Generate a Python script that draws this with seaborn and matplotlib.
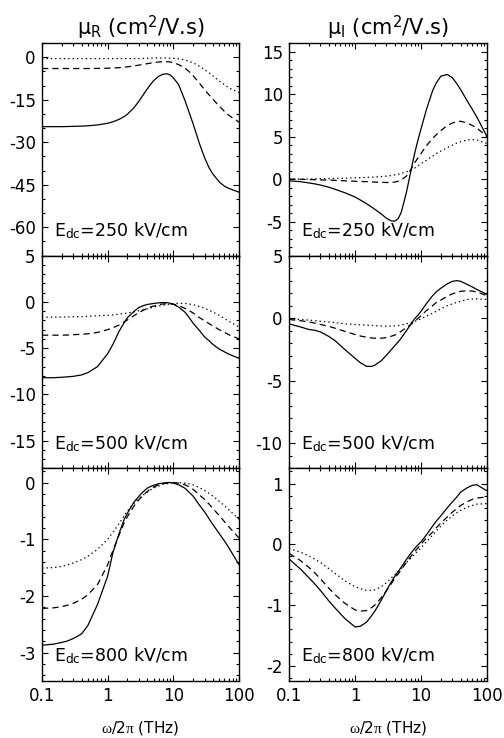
import numpy as np
import pandas as pd
import matplotlib
matplotlib.use("Agg")
import matplotlib.pyplot as plt
import seaborn as sns
from matplotlib.ticker import MultipleLocator, LogLocator, FixedLocator, FixedFormatter, NullFormatter

# ---------------- data ----------------
freq = [0.1, 0.15, 0.2, 0.25, 0.3, 0.4, 0.5, 0.7, 1.0, 1.2, 1.5, 1.8, 2.0, 2.5, 3.0, 3.5,
        4.0, 4.5, 5.0, 6.0, 7.0, 8.0, 9.0, 10, 12, 15, 17, 20, 25, 30, 35, 40, 50, 60, 70, 100]

fields = ["250", "500", "800"]
series_names = ["solid", "dashed", "dotted"]

# mu_R, E = 250 kV/cm
R250_solid = [-24.5, -24.5, -24.5, -24.45, -24.4, -24.3, -24.2, -23.9, -23.3, -22.8, -21.9,
              -20.9, -20.1, -17.9, -15.5, -13.2, -11.2, -9.6, -8.3, -6.7, -6.0, -5.85, -6.3,
              -7.3, -9.6, -15.2, -18.8, -23.5, -30.5, -35.5, -39.0, -41.2, -44.0, -45.5,
              -46.3, -47.6]
R250_dashed = [-4.0, -4.0, -4.0, -4.0, -4.0, -4.0, -4.0, -3.95, -3.9, -3.8, -3.7, -3.5, -3.4,
               -3.1, -2.8, -2.55, -2.3, -2.1, -1.9, -1.7, -1.6, -1.6, -1.7, -1.9, -2.6, -3.8,
               -4.9, -6.5, -9.2, -11.5, -13.3, -14.8, -17.3, -19.1, -20.5, -22.9]
R250_dotted = [-0.5, -0.5, -0.5, -0.5, -0.5, -0.5, -0.5, -0.5, -0.5, -0.5, -0.5, -0.5, -0.5,
               -0.5, -0.5, -0.45, -0.4, -0.35, -0.3, -0.3, -0.3, -0.3, -0.35, -0.4, -0.6,
               -1.0, -1.4, -2.0, -3.2, -4.4, -5.5, -6.6, -8.4, -9.7, -10.8, -12.5]

# mu_I, E = 250 kV/cm
I250_solid = [-0.2, -0.3, -0.45, -0.57, -0.7, -0.95, -1.2, -1.6, -2.1, -2.45, -2.9, -3.3,
              -3.55, -4.1, -4.6, -4.9, -4.95, -4.65, -3.95, -1.6, 0.9, 3.0, 4.6, 5.9, 8.1,
              10.4, 11.3, 12.1, 12.3, 11.9, 11.2, 10.5, 9.2, 8.2, 7.3, 5.0]
I250_dashed = [0.0, -0.02, -0.05, -0.07, -0.1, -0.1, -0.15, -0.2, -0.25, -0.28, -0.3, -0.33,
               -0.35, -0.38, -0.4, -0.4, -0.35, -0.25, -0.1, 0.35, 1.1, 1.9, 2.5, 3.0, 3.9,
               4.8, 5.2, 5.7, 6.3, 6.6, 6.75, 6.8, 6.6, 6.3, 6.0, 5.0]
I250_dotted = [0.0, 0.0, 0.0, 0.03, 0.05, 0.05, 0.1, 0.1, 0.15, 0.17, 0.2, 0.23, 0.25, 0.3,
               0.35, 0.42, 0.5, 0.57, 0.65, 0.85, 1.05, 1.3, 1.55, 1.8, 2.2, 2.7, 3.0, 3.3,
               3.7, 4.0, 4.25, 4.4, 4.6, 4.65, 4.6, 4.2]

# mu_R, E = 500 kV/cm
R500_solid = [-8.2, -8.2, -8.15, -8.1, -8.05, -7.9, -7.65, -7.0, -5.6, -4.6, -3.15, -2.2,
              -1.7, -1.05, -0.6, -0.4, -0.28, -0.22, -0.17, -0.1, -0.07, -0.08, -0.15,
              -0.25, -0.55, -1.1, -1.6, -2.3, -3.1, -3.8, -4.2, -4.6, -5.1, -5.4, -5.65, -6.1]
R500_dashed = [-3.6, -3.6, -3.6, -3.58, -3.55, -3.5, -3.45, -3.3, -3.0, -2.8, -2.5, -2.15,
               -1.95, -1.5, -1.15, -0.9, -0.7, -0.55, -0.45, -0.3, -0.22, -0.2, -0.22, -0.25,
               -0.4, -0.7, -0.9, -1.2, -1.7, -2.05, -2.35, -2.6, -3.0, -3.3, -3.55, -4.0]
R500_dotted = [-1.65, -1.65, -1.65, -1.62, -1.6, -1.6, -1.55, -1.5, -1.45, -1.4, -1.33,
               -1.25, -1.2, -1.08, -0.95, -0.85, -0.75, -0.65, -0.55, -0.45, -0.35, -0.3,
               -0.25, -0.2, -0.15, -0.17, -0.22, -0.3, -0.5, -0.7, -0.9, -1.1, -1.45, -1.8,
               -2.1, -2.7]

# mu_I, E = 500 kV/cm
I500_solid = [-0.45, -0.7, -0.9, -0.97, -1.1, -1.45, -1.8, -2.5, -3.2, -3.55, -3.85, -3.85,
              -3.75, -3.4, -2.95, -2.55, -2.2, -1.9, -1.6, -1.0, -0.5, -0.05, 0.25, 0.55,
              1.15, 1.8, 2.1, 2.4, 2.75, 2.95, 3.0, 2.95, 2.7, 2.5, 2.3, 1.9]
I500_dashed = [-0.1, -0.2, -0.3, -0.4, -0.5, -0.65, -0.8, -1.05, -1.3, -1.42, -1.52, -1.58,
               -1.6, -1.6, -1.55, -1.45, -1.35, -1.2, -1.05, -0.75, -0.5, -0.25, -0.02, 0.2,
               0.6, 1.0, 1.25, 1.45, 1.75, 1.95, 2.07, 2.15, 2.2, 2.17, 2.1, 1.8]
I500_dotted = [-0.05, -0.1, -0.15, -0.2, -0.25, -0.3, -0.35, -0.45, -0.5, -0.53, -0.55,
               -0.58, -0.6, -0.62, -0.63, -0.63, -0.62, -0.59, -0.55, -0.45, -0.35, -0.25,
               -0.15, -0.05, 0.15, 0.4, 0.55, 0.75, 1.0, 1.15, 1.27, 1.35, 1.5, 1.53, 1.55, 1.5]

# mu_R, E = 800 kV/cm
R800_solid = [-2.87, -2.85, -2.82, -2.79, -2.75, -2.67, -2.52, -2.15, -1.65, -1.24, -0.89,
              -0.64, -0.54, -0.35, -0.24, -0.16, -0.1, -0.07, -0.05, -0.02, -0.01, 0.0, 0.0,
              -0.01, -0.04, -0.1, -0.16, -0.24, -0.4, -0.52, -0.64, -0.74, -0.9, -1.03,
              -1.15, -1.45]
R800_dashed = [-2.22, -2.21, -2.19, -2.16, -2.13, -2.06, -1.98, -1.8, -1.45, -1.2, -0.92,
               -0.7, -0.6, -0.42, -0.3, -0.22, -0.16, -0.11, -0.08, -0.04, -0.02, -0.01,
               0.0, 0.0, -0.01, -0.04, -0.07, -0.12, -0.22, -0.3, -0.38, -0.46, -0.58,
               -0.69, -0.78, -0.98]
R800_dotted = [-1.51, -1.5, -1.48, -1.45, -1.42, -1.36, -1.3, -1.18, -1.0, -0.88, -0.72,
               -0.58, -0.5, -0.37, -0.28, -0.22, -0.17, -0.13, -0.1, -0.06, -0.03, -0.02,
               -0.01, -0.01, 0.0, -0.01, -0.02, -0.04, -0.09, -0.14, -0.19, -0.24, -0.33,
               -0.41, -0.48, -0.65]

# mu_I, E = 800 kV/cm
I800_solid = [-0.24, -0.41, -0.55, -0.66, -0.76, -0.93, -1.05, -1.22, -1.36, -1.35, -1.28,
              -1.17, -1.1, -0.92, -0.76, -0.63, -0.53, -0.45, -0.38, -0.25, -0.15, -0.07,
              -0.01, 0.04, 0.15, 0.3, 0.38, 0.47, 0.6, 0.7, 0.78, 0.86, 0.93, 0.97, 0.98, 0.88]
I800_dashed = [-0.15, -0.27, -0.38, -0.48, -0.57, -0.72, -0.83, -0.97, -1.08, -1.1, -1.09,
               -1.04, -1.0, -0.88, -0.76, -0.66, -0.56, -0.49, -0.42, -0.3, -0.2, -0.12,
               -0.06, 0.0, 0.1, 0.2, 0.27, 0.35, 0.45, 0.53, 0.59, 0.64, 0.7, 0.74, 0.76, 0.78]
I800_dotted = [-0.07, -0.13, -0.19, -0.25, -0.3, -0.4, -0.48, -0.6, -0.7, -0.73, -0.76,
               -0.76, -0.75, -0.7, -0.63, -0.56, -0.5, -0.45, -0.4, -0.3, -0.23, -0.16,
               -0.11, -0.06, 0.04, 0.15, 0.22, 0.3, 0.4, 0.47, 0.52, 0.56, 0.61, 0.64, 0.66,
               0.67]

xtick_values = [0.1, 1, 10, 100]
xtick_labels = ["0.1", "1", "10", "100"]
col_titles = ["\u03bc$_\\mathrm{R}$ (cm$^2$/V.s)", "\u03bc$_\\mathrm{I}$ (cm$^2$/V.s)"]
field_labels = ["E$_\\mathrm{dc}$=250 kV/cm", "E$_\\mathrm{dc}$=500 kV/cm",
                "E$_\\mathrm{dc}$=800 kV/cm"]
xlabel_text = r"$\omega\mathit{/2}\pi$ (THz)"

curves = {
    ("R", "250"): [R250_solid, R250_dashed, R250_dotted],
    ("I", "250"): [I250_solid, I250_dashed, I250_dotted],
    ("R", "500"): [R500_solid, R500_dashed, R500_dotted],
    ("I", "500"): [I500_solid, I500_dashed, I500_dotted],
    ("R", "800"): [R800_solid, R800_dashed, R800_dotted],
    ("I", "800"): [I800_solid, I800_dashed, I800_dotted],
}

rows = []
for (part, field), vals in curves.items():
    for name, v in zip(series_names, vals):
        for f, y in zip(freq, v):
            rows.append({"part": part, "field": field, "series": name, "freq": f, "value": y})
df = pd.DataFrame(rows)

# ---------------- style ----------------
sns.set_style("ticks")
plt.rcParams["font.family"] = ["DejaVu Sans"]
plt.rcParams["mathtext.fontset"] = "custom"
plt.rcParams["mathtext.rm"] = "DejaVu Sans"
plt.rcParams["mathtext.it"] = "Liberation Serif"
plt.rcParams["mathtext.bf"] = "DejaVu Sans:bold"
plt.rcParams["axes.unicode_minus"] = False
plt.rcParams["text.color"] = "black"
plt.rcParams["axes.labelcolor"] = "black"

W, H = 504, 738
fig = plt.figure(figsize=(W / 100, H / 100), dpi=100)

left_px = [42, 289]
width_px = [197, 198]
top_px, bottom_px = 43, 681
row_h = (bottom_px - top_px) / 3

ylims = {
    ("R", "250"): (-70, 5), ("I", "250"): (-9, 16),
    ("R", "500"): (-18, 5), ("I", "500"): (-12, 5),
    ("R", "800"): (-3.5, 0.25), ("I", "800"): (-2.25, 1.25),
}
ysteps = {
    ("R", "250"): (15, 5), ("I", "250"): (5, 1),
    ("R", "500"): (5, 1), ("I", "500"): (5, 1),
    ("R", "800"): (1, 0.2), ("I", "800"): (1, 0.2),
}
dash_map = {"solid": "", "dashed": (5, 3.3), "dotted": (1.1, 2.4)}

for r, field in enumerate(fields):
    for c, part in enumerate(["R", "I"]):
        y0 = 1 - (top_px + (r + 1) * row_h) / H
        ax = fig.add_axes([left_px[c] / W, y0, width_px[c] / W, row_h / H])
        sub = df[(df.part == part) & (df.field == field)]
        sns.lineplot(data=sub, x="freq", y="value", style="series", style_order=series_names,
                     dashes=dash_map, color="black", linewidth=0.9, legend=False,
                     estimator=None, ax=ax)
        ax.set_xscale("log")
        ax.set_xlim(0.1, 100)
        ax.set_ylim(*ylims[(part, field)])
        maj, mnr = ysteps[(part, field)]
        ax.yaxis.set_major_locator(MultipleLocator(maj))
        ax.yaxis.set_minor_locator(MultipleLocator(mnr))
        ax.xaxis.set_major_locator(FixedLocator(xtick_values))
        ax.xaxis.set_minor_locator(LogLocator(base=10, subs=np.arange(2, 10)))
        ax.xaxis.set_minor_formatter(NullFormatter())
        if r == 2:
            ax.xaxis.set_major_formatter(FixedFormatter(xtick_labels))
            ax.set_xlabel(xlabel_text, fontsize=11, labelpad=10)
        else:
            ax.xaxis.set_major_formatter(NullFormatter())
            ax.set_xlabel("")
        ax.set_ylabel("")
        ax.tick_params(which="both", direction="in", top=True, right=True, width=0.8,
                       colors="black", labelsize=12)
        ax.tick_params(which="major", length=4.5, pad=4.5)
        ax.tick_params(which="minor", length=2.2)
        for s in ax.spines.values():
            s.set_linewidth(1.0)
            s.set_color("black")
        ax.text(0.06, 0.09, field_labels[r], transform=ax.transAxes, fontsize=12.5,
                ha="left", va="baseline")
        if r == 0:
            ax.set_title(col_titles[c], fontsize=15, pad=6)

fig.savefig("out.png", dpi=100)
